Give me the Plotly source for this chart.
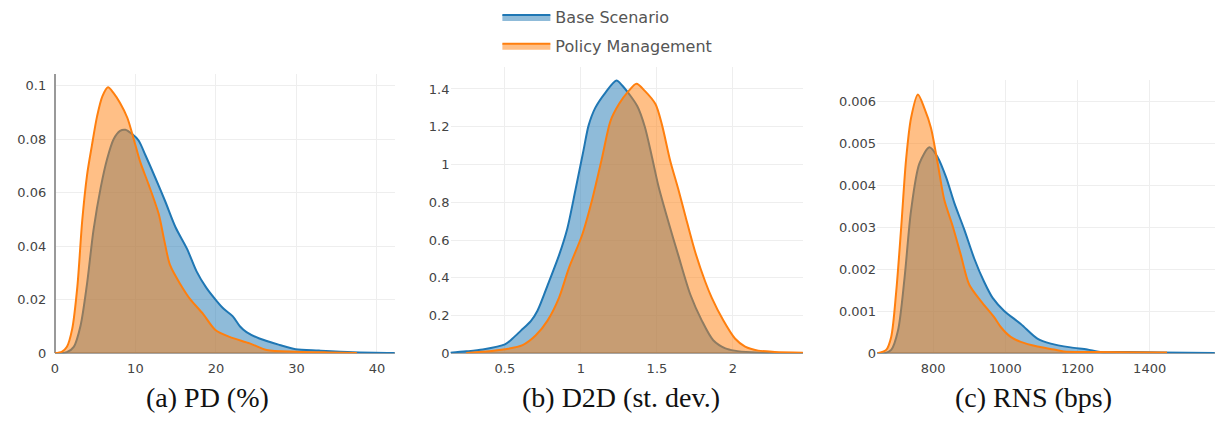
import plotly.graph_objects as go

# ---------------- data ----------------
# (a) PD (%)
pd_x_base = [0, 0.7, 1.5, 2.35, 3.2, 4.0, 4.8, 5.7, 6.5, 7.3, 8.1, 8.75, 9.6, 10.4, 11.25, 12.5,
             13.7, 15.0, 16.4, 17.6, 18.8, 20.1, 21.0, 22.1, 23.0, 23.8, 25.4, 27.9, 29.9, 32.8, 37, 42.2]
pd_y_base = [0, 0, 0.0004, 0.0024, 0.0104, 0.026, 0.046, 0.062, 0.0727, 0.080, 0.0831, 0.0835, 0.0819,
             0.0795, 0.074, 0.0654, 0.0568, 0.047, 0.0391, 0.0306, 0.0245, 0.0195, 0.0165, 0.0138, 0.010,
             0.0079, 0.0055, 0.0031, 0.0015, 0.001, 0.0004, 0.0001]
pd_x_policy = [0, 0.9, 1.5, 2.15, 2.8, 3.4, 4.0, 4.6, 5.25, 5.9, 6.6, 7.3, 8.1, 9.0, 9.8, 10.6, 11.65,
               12.9, 13.6, 14.3, 15.6, 16.8, 18.4, 19.9, 21.7, 24.2, 26.3, 30, 34, 37.5]
pd_y_policy = [0, 0.0006, 0.0024, 0.009, 0.025, 0.0495, 0.0666, 0.0776, 0.0886, 0.096, 0.0994, 0.0972,
               0.0935, 0.088, 0.080, 0.0715, 0.063, 0.052, 0.042, 0.033, 0.0257, 0.0202, 0.0147, 0.0088,
               0.0061, 0.0037, 0.0012, 0.0006, 0.0003, 0.0001]

# (b) D2D (st. dev.)
d2d_x_base = [0.14, 0.245, 0.354, 0.5, 0.55, 0.605, 0.67, 0.714, 0.79, 0.856, 0.91, 0.965, 1.017, 1.05,
              1.094, 1.16, 1.233, 1.27, 1.37, 1.42, 1.467, 1.51, 1.576, 1.64, 1.72, 1.795, 1.87, 1.95,
              2.01, 2.12, 2.23, 2.46]
d2d_y_base = [0.003, 0.01, 0.02, 0.047, 0.078, 0.12, 0.17, 0.225, 0.38, 0.52, 0.66, 0.87, 1.076, 1.206,
              1.30, 1.38, 1.445, 1.42, 1.31, 1.20, 1.04, 0.885, 0.694, 0.52, 0.31, 0.173, 0.069, 0.026,
              0.014, 0.005, 0.002, 0.0005]
d2d_x_policy = [0.245, 0.376, 0.5, 0.616, 0.703, 0.78, 0.856, 0.92, 1.007, 1.074, 1.14, 1.194, 1.25,
                1.314, 1.365, 1.42, 1.49, 1.533, 1.587, 1.64, 1.686, 1.75, 1.817, 1.86, 1.937, 2.013,
                2.08, 2.166, 2.275, 2.46]
d2d_y_policy = [0.002, 0.009, 0.021, 0.043, 0.095, 0.173, 0.295, 0.45, 0.625, 0.815, 1.04, 1.23, 1.32,
                1.39, 1.428, 1.39, 1.32, 1.21, 1.02, 0.87, 0.73, 0.54, 0.38, 0.295, 0.173, 0.078, 0.035,
                0.014, 0.007, 0.003]

# (c) RNS (bps)
rns_x_base = [646, 666, 684, 703, 721, 739, 762, 790, 813, 836, 859, 886, 914, 941, 965, 997, 1043,
              1089, 1126, 1181, 1227, 1263, 1337, 1429, 1580]
rns_y_base = [0, 0, 0.00008, 0.00055, 0.0018, 0.0034, 0.00452, 0.00491, 0.00467, 0.0042, 0.00358,
              0.00296, 0.00226, 0.00171, 0.00132, 0.00101, 0.0007, 0.00035, 0.00023, 0.00014, 0.00009,
              0.00003, 0.00003, 0.000015, 0.000005]
rns_x_policy = [646, 670, 684, 698, 712, 725, 739, 758, 776, 794, 813, 831, 854, 877, 900, 932, 969,
                988, 1015, 1043, 1089, 1135, 1162, 1245, 1448]
rns_y_policy = [0, 0.00008, 0.00039, 0.00148, 0.00304, 0.0046, 0.00561, 0.00617, 0.00584, 0.00538,
                0.00452, 0.00366, 0.00304, 0.00234, 0.00164, 0.00125, 0.00086, 0.00062, 0.00039,
                0.00027, 0.00016, 0.00009, 0.00004, 0.00003, 0.000015]

series_names = ["Base Scenario", "Policy Management"]
captions = ["(a) PD (%)", "(b) D2D (st. dev.)", "(c) RNS (bps)"]

# ---------------- layout helpers ----------------
W, H = 1216, 427


def fx(p):
    return p / W


def fy(p):
    return 1 - p / H


BLUE = "#1f77b4"
ORANGE = "#ff7f0e"
BLUE_FILL = "rgba(31,119,180,0.5)"
ORANGE_FILL = "rgba(255,127,14,0.5)"

panels = [
    dict(xb=pd_x_base, yb=pd_y_base, xp=pd_x_policy, yp=pd_y_policy,
         xdom=(51, 392), ytop=75, xrange=[0, 42.2], yrange=[0, 0.1045], dx=10, dy=0.02,
         cap_x=204, ticks="outside", ticklen=5, xzero=True),
    dict(xb=d2d_x_base, yb=d2d_y_base, xp=d2d_x_policy, yp=d2d_y_policy,
         xdom=(448, 802), ytop=68, xrange=[0.142, 2.463], yrange=[0, 1.518], dx=0.5, dy=0.2,
         cap_x=619, ticks="", ticklen=0, xzero=False),
    dict(xb=rns_x_base, yb=rns_y_base, xp=rns_x_policy, yp=rns_y_policy,
         xdom=(876, 1215), ytop=82, xrange=[645, 1581], yrange=[0, 0.006505], dx=200, dy=0.001,
         cap_x=1033, ticks="", ticklen=0, xzero=False),
]

fig = go.Figure()
tickfont = dict(family="DejaVu Sans", size=13, color="#444")

for i, p in enumerate(panels):
    n = "" if i == 0 else str(i + 1)
    xa, ya = "x" + n, "y" + n
    fig.add_trace(go.Scatter(x=p["xb"], y=p["yb"], xaxis=xa, yaxis=ya, mode="lines",
                             line=dict(color=BLUE, width=2, shape="spline", smoothing=0.8),
                             fill="tozeroy", fillcolor=BLUE_FILL, name=series_names[0],
                             legendgroup="base", showlegend=(i == 0), hoverinfo="skip"))
    fig.add_trace(go.Scatter(x=p["xp"], y=p["yp"], xaxis=xa, yaxis=ya, mode="lines",
                             line=dict(color=ORANGE, width=2, shape="spline", smoothing=0.8),
                             fill="tozeroy", fillcolor=ORANGE_FILL, name=series_names[1],
                             legendgroup="policy", showlegend=(i == 0), hoverinfo="skip"))
    fig.layout["xaxis" + n] = dict(
        domain=[fx(p["xdom"][0]), fx(p["xdom"][1])], anchor=ya, range=p["xrange"],
        dtick=p["dx"], showgrid=True, gridcolor="#eeeeee", gridwidth=1,
        zeroline=p["xzero"], zerolinecolor="#999999", zerolinewidth=2,
        showline=False, ticks="outside", ticklen=3, tickcolor="rgba(0,0,0,0)",
        tickfont=tickfont, fixedrange=True)
    fig.layout["yaxis" + n] = dict(
        domain=[fy(360), fy(p["ytop"])], anchor=xa, range=p["yrange"],
        dtick=p["dy"], showgrid=True, gridcolor="#eeeeee", gridwidth=1,
        zeroline=True, zerolinecolor="#aaaaaa", zerolinewidth=1.5,
        showline=False, ticks=p["ticks"], ticklen=p["ticklen"], tickcolor="rgba(0,0,0,0)",
        tickfont=tickfont, fixedrange=True)
    fig.add_annotation(text=captions[i], xref="paper", yref="paper", x=fx(p["cap_x"]), y=fy(405),
                       xanchor="center", yanchor="middle", showarrow=False,
                       font=dict(family="Liberation Serif", size=28, color="#111"))

fig.update_layout(
    width=W, height=H, autosize=False,
    margin=dict(l=0, r=0, t=0, b=0),
    paper_bgcolor="white", plot_bgcolor="white",
    showlegend=True,
    legend=dict(x=fx(495), y=1.0, xanchor="left", yanchor="top",
                font=dict(family="DejaVu Sans", size=16, color="#555"),
                bgcolor="rgba(0,0,0,0)", itemwidth=48, tracegroupgap=5,
                traceorder="grouped"),
)

# remove the browser's default 8px body margin so the figure fills the window exactly
fig.write_html("out.html", config={"displayModeBar": False},
               post_script="document.body.style.margin='0';document.body.style.overflow='hidden';")
